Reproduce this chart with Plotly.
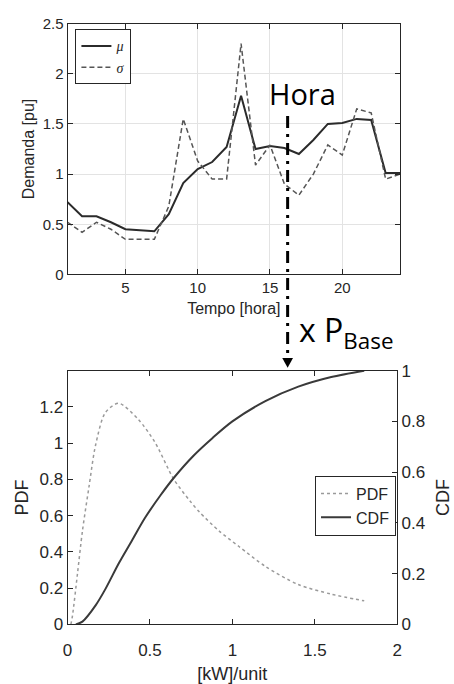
import plotly.graph_objects as go

W, H = 454, 684

# ---------------- data ----------------
hours = list(range(1, 25))
mu = [0.72, 0.58, 0.58, 0.52, 0.45, 0.44, 0.43, 0.60, 0.91, 1.05, 1.12, 1.27,
      1.78, 1.25, 1.28, 1.26, 1.20, 1.34, 1.50, 1.51, 1.55, 1.54, 1.01, 1.01]
sigma = [0.52, 0.42, 0.52, 0.45, 0.35, 0.35, 0.35, 0.68, 1.55, 1.13, 0.95, 0.95,
         2.30, 1.09, 1.29, 0.90, 0.79, 1.00, 1.29, 1.19, 1.65, 1.61, 0.95, 1.00]

pdf_x = [0.02, 0.03, 0.06, 0.09, 0.13, 0.17, 0.23, 0.31, 0.43, 0.53, 0.645, 0.744,
         0.80, 0.92, 1.04, 1.2, 1.4, 1.6, 1.8]
pdf_y = [0.0, 0.05, 0.28, 0.515, 0.76, 0.99, 1.17, 1.22, 1.13, 1.005, 0.80, 0.68,
         0.62, 0.515, 0.43, 0.32, 0.22, 0.167, 0.13]

cdf_x = [0.05, 0.09, 0.17, 0.23, 0.31, 0.39, 0.47, 0.565, 0.645, 0.764, 0.88, 1.0,
         1.2, 1.4, 1.6, 1.8]
cdf_y = [0.0, 0.011, 0.075, 0.14, 0.24, 0.33, 0.42, 0.51, 0.578, 0.665, 0.735, 0.80,
         0.88, 0.937, 0.975, 1.0]

top_xticks = [5, 10, 15, 20]
top_yticks = [0, 0.5, 1, 1.5, 2, 2.5]
bot_xticks = [0, 0.5, 1, 1.5, 2]
pdf_ticks = [0, 0.2, 0.4, 0.6, 0.8, 1.0, 1.2]
cdf_ticks = [0, 0.2, 0.4, 0.6, 0.8, 1.0]


def px(x):
    return x / W


def py(y):
    return 1 - y / H


TXT = "#262626"
TICKFONT = dict(family="Liberation Sans, Arial", size=15, color=TXT)
BTICKFONT = dict(family="Liberation Sans, Arial", size=17, color=TXT)

fig = go.Figure()

fig.add_trace(go.Scatter(x=hours, y=mu, mode="lines", name="<i>μ</i>",
                         line=dict(color="#2b2b2b", width=2),
                         xaxis="x", yaxis="y", legend="legend"))
fig.add_trace(go.Scatter(x=hours, y=sigma, mode="lines", name="<i>σ</i>",
                         line=dict(color="#555555", width=1.5, dash="5px,3px"),
                         xaxis="x", yaxis="y", legend="legend"))

fig.add_trace(go.Scatter(x=pdf_x, y=pdf_y, mode="lines", name="PDF",
                         line=dict(color="#9a9a9a", width=1.5, dash="dot",
                                   shape="spline", smoothing=0.8),
                         xaxis="x2", yaxis="y2", legend="legend2"))
fig.add_trace(go.Scatter(x=cdf_x, y=cdf_y, mode="lines", name="CDF",
                         line=dict(color="#3a3a3a", width=2, shape="spline", smoothing=0.8),
                         xaxis="x2", yaxis="y3", legend="legend2"))

axis_common = dict(showline=True, linecolor=TXT, linewidth=1, ticks="inside",
                   ticklen=5, tickcolor=TXT, zeroline=False)

fig.update_layout(
    width=W, height=H,
    margin=dict(l=0, r=0, t=0, b=0),
    paper_bgcolor="white", plot_bgcolor="white",
    xaxis=dict(**axis_common, domain=[px(64), px(404)], range=[1, 24],
               tickvals=top_xticks, mirror="ticks", showgrid=True,
               gridcolor="#e3e3e3", tickfont=TICKFONT, anchor="y",
               title=dict(text="Tempo [hora]", font=dict(family="Liberation Sans, Arial",
                                                         size=16, color=TXT), standoff=7)),
    yaxis=dict(**axis_common, domain=[py(273), py(15)], range=[0, 2.5],
               tickvals=top_yticks, ticktext=["0", "0.5", "1", "1.5", "2", "2.5"],
               mirror="ticks", showgrid=True, gridcolor="#e3e3e3", tickfont=TICKFONT,
               anchor="x",
               title=dict(text="Demanda [pu]", font=dict(family="Liberation Sans, Arial",
                                                         size=16, color=TXT), standoff=4)),
    xaxis2=dict(**axis_common, domain=[px(64), px(401)], range=[0, 2],
                tickvals=bot_xticks, ticktext=["0", "0.5", "1", "1.5", "2"],
                mirror="ticks", showgrid=False, tickfont=BTICKFONT, anchor="y2",
                ticklabelstandoff=10,
                title=dict(text="[kW]/unit", font=dict(family="Liberation Sans, Arial",
                                                       size=18, color=TXT), standoff=10)),
    yaxis2=dict(**axis_common, domain=[py(633), py(372)], range=[0, 1.4],
                tickvals=pdf_ticks, ticktext=["0", "0.2", "0.4", "0.6", "0.8", "1", "1.2"],
                showgrid=False, tickfont=BTICKFONT, anchor="x2",
                title=dict(text="PDF", font=dict(family="Liberation Sans, Arial",
                                                 size=18, color=TXT), standoff=6)),
    yaxis3=dict(**axis_common, domain=[py(633), py(372)], range=[0, 1],
                tickvals=cdf_ticks, ticktext=["0", "0.2", "0.4", "0.6", "0.8", "1"],
                overlaying="y2", side="right", showgrid=False, tickfont=BTICKFONT,
                anchor="x2",
                title=dict(text="CDF", font=dict(family="Liberation Sans, Arial",
                                                 size=18, color=TXT), standoff=12)),
    legend=dict(x=px(72), y=py(21), xanchor="left", yanchor="top",
                bgcolor="white", bordercolor=TXT, borderwidth=1,
                font=dict(family="Liberation Serif, Times New Roman", size=14, color=TXT),
                tracegroupgap=0, itemwidth=30),
    legend2=dict(x=px(317), y=py(480), xanchor="left", yanchor="top",
                 bgcolor="white", bordercolor=TXT, borderwidth=1,
                 font=dict(family="Liberation Sans, Arial", size=16, color=TXT),
                 tracegroupgap=0, itemwidth=30),
    showlegend=True,
)

# dash-dot guide line from "Hora" to the CDF axis, with arrow head
fig.add_shape(type="line", xref="paper", yref="paper",
              x0=px(289), x1=px(289), y0=py(110), y1=py(359),
              line=dict(color="black", width=3, dash="12px,6px,3px,6px"))
fig.add_shape(type="path", xref="paper", yref="paper",
              path=f"M {px(283.5)},{py(359)} L {px(294.5)},{py(359)} L {px(289)},{py(369)} Z",
              fillcolor="black", line=dict(color="black", width=0))

fig.add_annotation(text="Hora", xref="paper", yref="paper", x=px(304), y=py(87),
                   xanchor="center", yanchor="middle", showarrow=False,
                   font=dict(family="Open Sans", size=29, color="black"))
fig.add_annotation(text="x P<sub>Base</sub>", xref="paper", yref="paper",
                   x=px(299), y=py(332), xanchor="left", yanchor="middle",
                   showarrow=False,
                   font=dict(family="Open Sans", size=32, color="black"))

fig.write_html("out.html")
